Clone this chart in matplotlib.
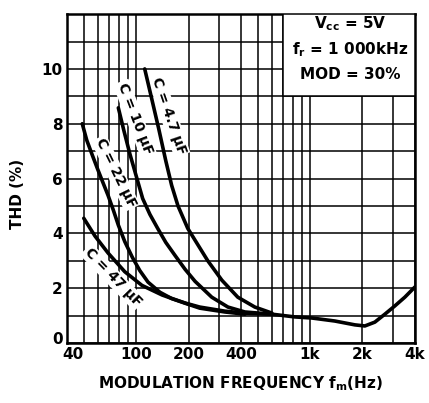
import matplotlib
matplotlib.use("Agg")
import matplotlib.pyplot as plt
from matplotlib.patches import Rectangle
from matplotlib.ticker import FixedLocator, NullFormatter
from matplotlib.transforms import ScaledTranslation

plt.rcParams['font.family'] = ['DejaVu Sans']
plt.rcParams['font.weight'] = 'bold'
plt.rcParams['mathtext.fontset'] = 'custom'
plt.rcParams['mathtext.rm'] = 'DejaVu Sans:bold'
plt.rcParams['mathtext.it'] = 'DejaVu Sans:bold'
plt.rcParams['mathtext.bf'] = 'DejaVu Sans:bold'

# THD (%) vs modulation frequency (Hz), one curve per capacitor
f_4u7 = [112, 123, 135, 148, 160, 174, 198, 218, 258, 311, 384, 481, 603]
thd_4u7 = [10.0, 8.9, 7.8, 6.65, 5.75, 5.0, 4.18, 3.75, 3.0, 2.29, 1.67, 1.31, 1.09]

f_10u = [79, 85, 92, 100, 109, 120, 133, 148, 167, 191, 218, 272, 337, 422, 603]
thd_10u = [8.58, 7.75, 6.9, 6.1, 5.27, 4.69, 4.18, 3.67, 3.2, 2.69, 2.25, 1.67, 1.31, 1.13, 1.05]

f_22u = [49, 52, 56, 60, 64, 69, 74, 79, 86, 95, 105, 117, 137, 160, 193, 232, 324, 422]
thd_22u = [8.0, 7.4, 6.85, 6.35, 5.9, 5.38, 4.84, 4.3, 3.7, 3.13, 2.64, 2.22, 1.85, 1.62, 1.45, 1.31, 1.16, 1.09]

f_47u = [50, 58, 69, 86, 108, 141, 191, 232, 324, 422]
thd_47u = [4.55, 3.9, 3.28, 2.6, 2.1, 1.75, 1.45, 1.27, 1.13, 1.05]

# common part of all curves above ~600 Hz
f_tail = [422, 603, 817, 1024, 1388, 1809, 2064, 2356, 2690, 3068, 3504, 4000]
thd_tail = [1.08, 1.05, 0.95, 0.91, 0.8, 0.66, 0.62, 0.76, 1.05, 1.35, 1.67, 2.04]

xticks = [40, 100, 200, 400, 1000, 2000, 4000]
xticklabels = ['40', '100', '200', '400', '1k', '2k', '4k']
yticks = [0, 2, 4, 6, 8, 10]

fig = plt.figure(figsize=(4.29, 4.03), dpi=100)
ax = fig.add_axes([0.156, 0.149, 0.811, 0.816])

ax.set_xscale('log')
ax.set_xlim(40, 4000)
ax.set_ylim(0, 12)

minor = [m * d for d in (10, 100, 1000) for m in range(1, 10) if 40 <= m * d <= 4000]
ax.xaxis.set_major_locator(FixedLocator(xticks))
ax.xaxis.set_minor_locator(FixedLocator(minor))
ax.xaxis.set_minor_formatter(NullFormatter())
ax.set_xticklabels(xticklabels)
ax.set_yticks(yticks)
ax.yaxis.set_minor_locator(FixedLocator(range(0, 13)))

ax.grid(which='both', color='black', linewidth=1.1)
ax.set_axisbelow(True)
ax.tick_params(which='both', length=0, labelsize=11, pad=3)
for s in ax.spines.values():
    s.set_linewidth(1.8)

# nudge the corner labels apart like the original
lab0 = ax.get_yticklabels()[0]
lab0.set_transform(lab0.get_transform() + ScaledTranslation(0, 5 / 100, fig.dpi_scale_trans))
lab40 = ax.get_xticklabels()[0]
lab40.set_transform(lab40.get_transform() + ScaledTranslation(6 / 100, 0, fig.dpi_scale_trans))

for f, t in [(f_4u7, thd_4u7), (f_10u, thd_10u), (f_22u, thd_22u), (f_47u, thd_47u), (f_tail, thd_tail)]:
    ax.plot(f, t, color='black', linewidth=2.6, zorder=4,
            solid_capstyle='round', solid_joinstyle='round')

bb = dict(facecolor='white', edgecolor='none', pad=1)
curve_labels = [
    ("C = 4.7 µF", 154, 8.3, -71),
    ("C = 10 µF", 98, 8.2, -69),
    ("C = 22 µF", 76, 6.2, -64),
    ("C = 47 µF", 73.5, 2.4, -46),
]
for txt, x, y, rot in curve_labels:
    ax.text(x, y, txt, rotation=rot, rotation_mode='anchor', ha='center', va='center',
            fontsize=10, fontweight='bold', bbox=bb, zorder=3)

ax.add_patch(Rectangle((700, 9), 3300, 3, facecolor='white', edgecolor='black',
                       linewidth=1.1, zorder=3))
ax.text(1700, 11.65, r"$V_{cc}$ = 5V", ha='center', va='center', fontsize=11, zorder=5)
ax.text(1700, 10.72, r"$f_r$ = 1 000kHz", ha='center', va='center', fontsize=11, zorder=5)
ax.text(1700, 9.8, "MOD = 30%", ha='center', va='center', fontsize=11, zorder=5)

ax.set_ylabel("THD (%)", fontsize=11, fontweight='bold')
ax.yaxis.set_label_coords(-0.121, 0.453)
ax.set_xlabel(r"MODULATION FREQUENCY $f_m$(Hz)", fontsize=11, fontweight='bold', labelpad=9)

fig.savefig("out.png", dpi=100)
